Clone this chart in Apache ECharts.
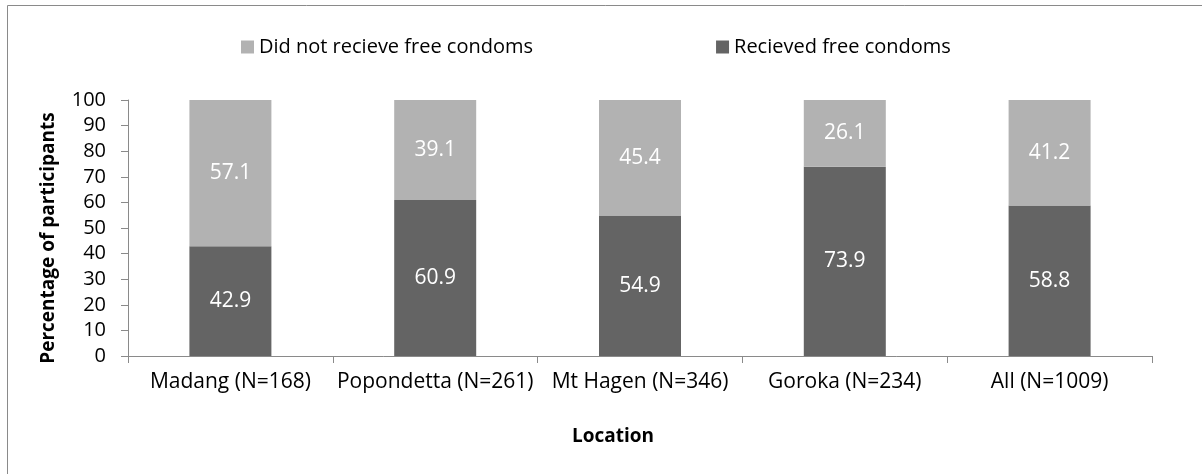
<!DOCTYPE html>
<html>
<head>
<meta charset="utf-8">
<script src="https://cdn.jsdelivr.net/npm/echarts@6/dist/echarts.min.js"></script>
<style>html,body{margin:0;padding:0;background:#fff}#c{width:1202px;height:474px}</style>
</head>
<body>
<div id="c"></div>
<script>
const categories = ['Madang (N=168)', 'Popondetta (N=261)', 'Mt Hagen (N=346)', 'Goroka (N=234)', 'All (N=1009)'];
const received = [42.9, 60.9, 54.9, 73.9, 58.8];
const notReceived = [57.1, 39.1, 45.4, 26.1, 41.2];
const seriesNames = ['Did not recieve free condoms', 'Recieved free condoms'];
const yTicks = [0, 100, 10];

const FONT = '"Open Sans", sans-serif';
const chart = echarts.init(document.getElementById('c'), null, {renderer: 'canvas'});
const labelStyle = {show: true, position: 'inside', color: '#ffffff', fontFamily: FONT, fontSize: 21, formatter: p => p.value.toFixed(1)};
chart.setOption({
  animation: false,
  backgroundColor: '#ffffff',
  graphic: [{type: 'rect', shape: {x: 7.5, y: 5.5, width: 1200, height: 520}, style: {fill: 'none', stroke: '#8a8a8a', lineWidth: 1}, silent: true}],
  legend: {
    data: seriesNames,
    left: 236, top: 32,
    itemWidth: 13, itemHeight: 13, itemGap: 183,
    icon: 'rect',
    textStyle: {fontFamily: FONT, fontSize: 20, color: '#000'}
  },
  grid: {left: 128, right: 50, top: 100, bottom: 118},
  xAxis: {
    type: 'category', data: categories,
    name: 'Location', nameLocation: 'middle', nameGap: 71,
    nameTextStyle: {fontFamily: FONT, fontSize: 19, fontWeight: 'bold', color: '#000', padding: [0, 54, 0, 0]},
    axisLine: {lineStyle: {color: '#8a8a8a', width: 1}},
    axisTick: {show: true, length: 7, lineStyle: {color: '#8a8a8a'}},
    axisLabel: {fontFamily: FONT, fontSize: 21, color: '#000', margin: 16, interval: 0}
  },
  yAxis: {
    type: 'value', min: yTicks[0], max: yTicks[1], interval: yTicks[2],
    name: 'Percentage of participants', nameLocation: 'middle', nameGap: 70,
    nameTextStyle: {fontFamily: FONT, fontSize: 19, fontWeight: 'bold', color: '#000', padding: [0, 20, 0, 0]},
    axisLine: {show: true, lineStyle: {color: '#8a8a8a', width: 1}},
    axisTick: {show: true, length: 7, lineStyle: {color: '#8a8a8a'}},
    axisLabel: {fontFamily: FONT, fontSize: 20, color: '#000', margin: 22},
    splitLine: {show: false}
  },
  series: [
    {name: seriesNames[1], type: 'bar', stack: 'a', data: received, barWidth: 82, itemStyle: {color: '#646464'}, label: labelStyle},
    {name: seriesNames[0], type: 'bar', stack: 'a', data: notReceived, barWidth: 82, itemStyle: {color: '#b2b2b2'}, label: labelStyle}
  ]
});
</script>
</body>
</html>
